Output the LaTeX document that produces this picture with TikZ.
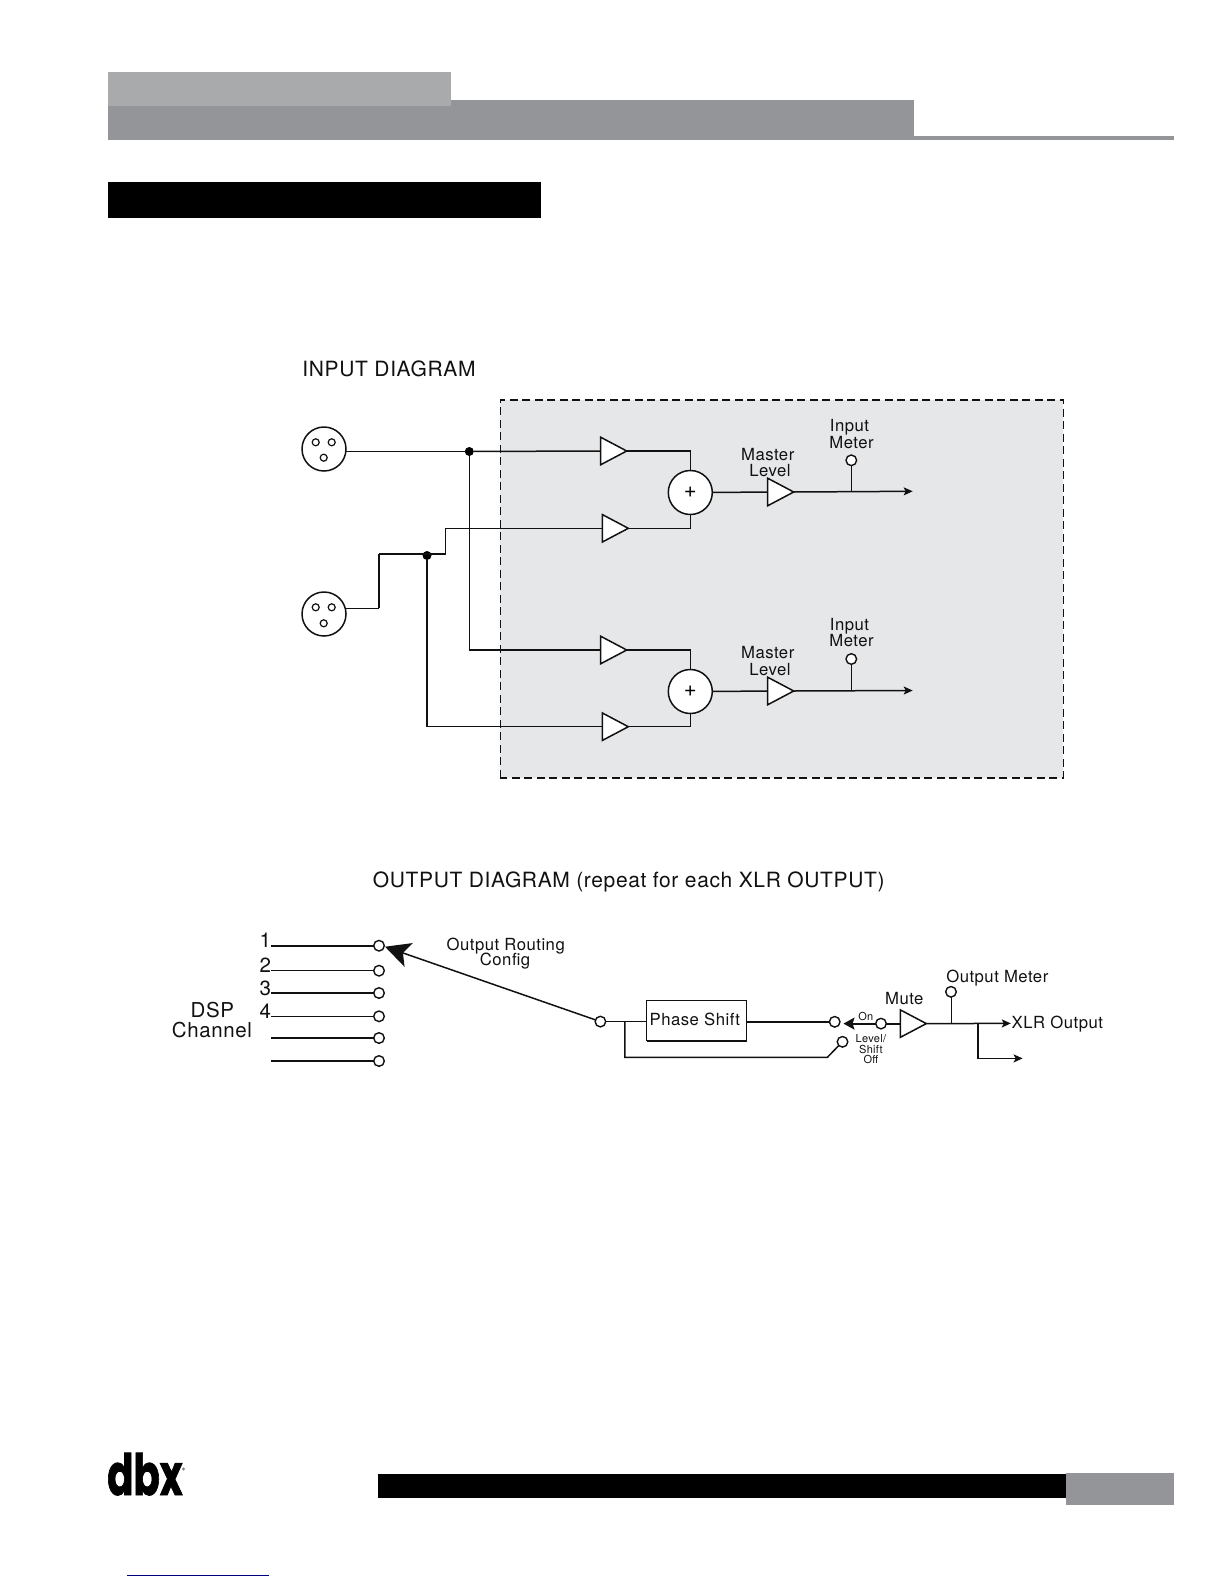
\documentclass[tikz,border=0pt]{standalone}
\usepackage{fontspec}
\usetikzlibrary{shapes.geometric,arrows.meta}
\newfontfamily\hv[LetterSpace=3]{TeX Gyre Heros}
\newfontfamily\logofont[FakeBold=1.5]{Poppins}
\definecolor{barlight}{HTML}{A9AAAC}
\definecolor{bardark}{HTML}{939598}
\definecolor{shade}{HTML}{E6E7E8}
\definecolor{ink}{HTML}{111111}
\tikzset{
  wire/.style={draw=ink,line width=1.5pt},
  thick wire/.style={draw=ink,line width=2pt},
  small arrow/.style={-{Stealth[length=9pt,width=8pt,inset=2pt]}},
  amp/.style={isosceles triangle,isosceles triangle stretches,shape border rotate=0,draw=ink,fill=white,line width=1.5pt,inner sep=0pt,outer sep=0pt,minimum height=26pt,minimum width=27.5pt,anchor=apex},
  port/.style={circle,draw=ink,fill=white,line width=1.4pt,inner sep=0pt,outer sep=0pt,minimum size=10.6pt},
  pin/.style={circle,draw=ink,fill=white,line width=1.2pt,inner sep=0pt,minimum size=7pt},
  xlr/.style={circle,draw=ink,fill=white,line width=1.5pt,inner sep=0pt,outer sep=0pt,minimum size=44pt},
  sum/.style={circle,draw=ink,fill=white,line width=1.5pt,inner sep=0pt,outer sep=0pt,minimum size=44pt,font=\hv\fontsize{22}{22}\selectfont},
  junction/.style={circle,fill=black,inner sep=0pt,minimum size=9pt},
  lbl/.style={font=\hv\fontsize{16.7}{16.7}\selectfont,inner sep=0pt,anchor=base,text=ink},
  lblbig/.style={font=\hv\fontsize{20.5}{20.5}\selectfont,inner sep=0pt,anchor=base,text=ink},
  lbltitle/.style={font=\hv\fontsize{21}{21}\selectfont,inner sep=0pt,anchor=base,text=ink},
  lblsmall/.style={font=\hv\fontsize{11}{11}\selectfont,inner sep=0pt,anchor=base,text=ink},
}
\begin{document}
\begin{tikzpicture}[x=1pt,y=-1pt]
\useasboundingbox (0,0) rectangle (1224,1584);
% page furniture
\fill[bardark] (108,100) rectangle (914,140);
\fill[bardark] (914,136.5) rectangle (1174,140);
\fill[barlight] (108,72) rectangle (451,105.7);
\fill[black] (108,181.7) rectangle (541,217.7);
\fill[black] (378,1474) rectangle (1066,1497.7);
\fill[bardark] (1066,1473) rectangle (1174,1505);
\draw[draw=blue!50!black,line width=1pt] (127,1575.3) -- (269,1575.3);
\node[inner sep=0pt,anchor=base west,font=\logofont\bfseries\fontsize{57}{57}\selectfont] (logo) at (107,1495) {\scalebox{.68}[1]{dbx}};
\fill[gray] (183.5,1469) circle (1.7);
% input diagram
\node[lbltitle] (inputtitle) at (389,376.3) {INPUT DIAGRAM};
\draw[fill=shade,draw=none] (500.3,399.7) rectangle (1063.3,777.7);
\draw[draw=ink,line width=1.6pt,dash pattern=on 8pt off 4.5pt] (500.3,777.7) -- (500.3,399.7) -- (1063.3,399.7) -- (1063.3,777.7) -- cycle;

\node[xlr] (x1) at (324,449) {};
\node[pin] at (315.7,442.3) {};
\node[pin] at (331.7,442.3) {};
\node[pin] at (323.7,457.7) {};
\node[xlr] (x2) at (324,614) {};
\node[pin] at (315.7,607.3) {};
\node[pin] at (331.7,607.3) {};
\node[pin] at (323.7,623.3) {};

\node[amp] (t1) at (626.7,451) {};
\node[amp] (t2) at (628.3,528.3) {};
\node[amp] (t3) at (626.7,650) {};
\node[amp] (t4) at (628.3,726.7) {};
\node[sum] (s1) at (690.3,492.5) {\raisebox{-2pt}{+}};
\node[sum] (s2) at (690.3,691.5) {\raisebox{-2pt}{+}};
\node[amp] (m1) at (793.7,492) {};
\node[amp] (m2) at (793.7,691) {};
\node[port] (p1) at (851.3,460.3) {};
\node[port] (p2) at (851.3,659) {};
\node[junction] (j1) at (469.3,451.5) {};
\node[junction] (j2) at (427,555.5) {};

\coordinate (c1) at (379.3,608.3);
\coordinate (c2) at (379.3,554);
\coordinate (c3) at (445.7,554);
\coordinate (c4) at (445.7,528.3);
\coordinate (e1) at (912.7,491.3);
\coordinate (e2) at (912.7,690.5);

\draw[wire] (j1 -| x1.east) -- (j1);
\draw[wire] (j1) -- (t1.west |- t1.apex);
\draw[wire] (j1) |- (t3.west |- t3.apex);
\draw[wire] (j2) |- (t4.west |- t4.apex);
\draw[wire] (c1 -| x2.east) -- (c1);
\draw[thick wire] (c1) -- (c2);
\draw[wire] (c2) -- (c3) -- (c4) -- (t2.west |- t2.apex);
\draw[wire] (t1.apex) -| (s1.north);
\draw[wire] (t2.apex) -| (s1.south);
\draw[wire] (t3.apex) -| (s2.north);
\draw[wire] (t4.apex) -| (s2.south);
\draw[wire] (s1.east) -- (m1.west |- m1.apex);
\draw[wire] (s2.east) -- (m2.west |- m2.apex);
\draw[wire,small arrow] (m1.apex) -- (e1);
\draw[wire,small arrow] (m2.apex) -- (e2);
\draw[wire] (p1.south) -- (p1.south |- e1);
\draw[wire] (p2.south) -- (p2.south |- e2);

\node[lbl] at (849.5,431.8) {Input};
\node[lbl] at (851.5,448) {Meter};
\node[lbl] at (767.7,460.1) {Master};
\node[lbl] at (770,476.5) {Level};
\node[lbl] at (849.5,630.5) {Input};
\node[lbl] at (851.5,646.8) {Meter};
\node[lbl] at (767.7,658.8) {Master};
\node[lbl] at (770,675.1) {Level};

% output diagram
\node[lbltitle] (outputtitle) at (628.7,887) {OUTPUT DIAGRAM (repeat for each XLR OUTPUT)};
\node[lblbig] at (265.3,947.7) {1};
\node[lblbig] at (265.3,972.4) {2};
\node[lblbig] at (265.3,995.4) {3};
\node[lblbig] at (265.3,1018.3) {4};
\node[lblbig] at (212.3,1017) {DSP};
\node[lblbig] at (212,1037) {Channel};
\node[lbl] at (505.7,950.1) {Output Routing};
\node[lbl] at (505,965.8) {Config};

\node[port] (c-a) at (379,945.7) {};
\node[port] (c-b) at (379,970.7) {};
\node[port] (c-c) at (379,993) {};
\node[port] (c-d) at (379,1016.3) {};
\node[port] (c-e) at (379,1038) {};
\node[port] (c-f) at (379,1061) {};
\coordinate (a0) at (271,945.7);
\coordinate (b0) at (271,970.7);
\coordinate (c0) at (271,993);
\coordinate (d0) at (271,1016.3);
\coordinate (e0) at (271,1038);
\coordinate (f0) at (271,1061);
\draw[thick wire] (a0) -- (c-a.west);
\draw[wire] (b0) -- (c-b.west);
\draw[wire] (c0) -- (c-c.west);
\draw[wire] (d0) -- (c-d.west);
\draw[thick wire] (e0) -- (c-e.west);
\draw[wire] (f0) -- (c-f.west);

\node[port] (rsw) at (600.4,1021.6) {};
\coordinate (tip) at (385,946.7);
\draw[wire,-{Stealth[length=25pt,width=25pt,inset=6pt]}] (rsw) -- (tip);

\node[draw=ink,fill=white,line width=1.5pt,inner sep=0pt,outer sep=0pt,minimum width=100pt,minimum height=40pt,anchor=center] (ps) at (696.5,1020.6) {};
\node[lbl] (pstext) at (694.8,1025.8) {Phase Shift};
\draw[draw=ink,line width=2.2pt] (ps.south west) -- (ps.south east);
\node[port] (on) at (834.7,1021.8) {};
\node[port] (off) at (842.5,1041.8) {};
\node[port] (mi) at (881,1023.6) {};
\node[amp] (mute) at (926.3,1023.6) {};
\node[port] (om) at (951,991.8) {};
\coordinate (x) at (1010.8,1023.4);
\coordinate (y) at (1022.6,1058.4);
\coordinate (b1) at (624.8,1057.4);
\coordinate (b2) at (827.3,1057.4);
\coordinate (b3) at (978,1023.4);
\coordinate (b4) at (624.8,1021.6);
\coordinate (armt) at (843.5,1023.6);

\draw[wire] (rsw.east) -- (b4) -- (ps.west |- b4);
\draw[wire] (ps.east |- on) -- (on.west);
\draw[wire] (b4) -- (b1) -- (b2) -- (off.south west);
\draw[thick wire,-{Stealth[length=11pt,width=12pt,inset=2pt]}] (mi.west) -- (armt);
\draw[thick wire] (mi.east) -- (mute.west |- mute.apex);
\draw[wire,small arrow] (mute.apex) -- (x);
\draw[wire] (om.south) ++(0.7,0) -- (951.7,1023.4);
\draw[wire,small arrow] (b3) |- (y);

\node[lbl] at (997.3,982.7) {Output Meter};
\node[lbl] at (904.3,1004.2) {Mute};
\node[lbl,anchor=base west] at (1011.5,1028.5) {XLR Output};
\node[lblsmall] at (865.8,1020.5) {On};
\node[lblsmall] at (870.9,1042.6) {Level/};
\node[lblsmall] at (870.9,1053.4) {Shift};
\node[lblsmall] at (870.9,1063.4) {Off};
\end{tikzpicture}
\end{document}
